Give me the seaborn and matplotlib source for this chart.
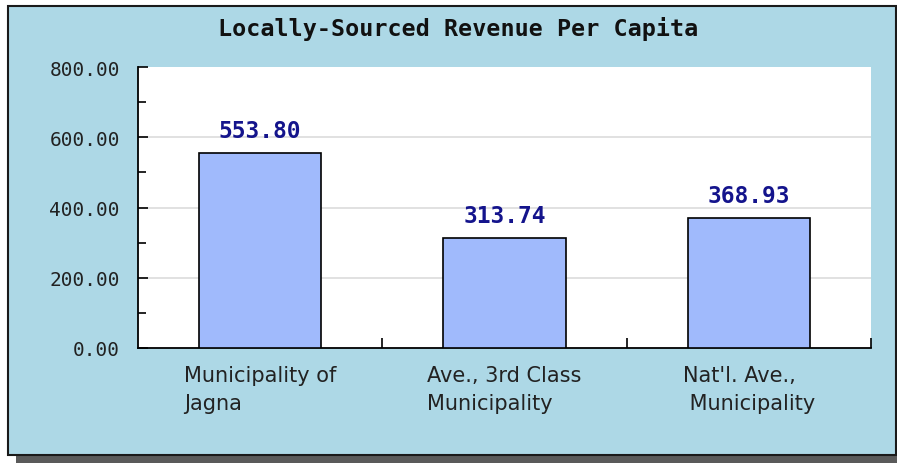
import matplotlib
matplotlib.use("Agg")
import matplotlib.pyplot as plt
from matplotlib.patches import Rectangle
from matplotlib.ticker import FixedLocator, FuncFormatter
import seaborn as sns

title = "Locally-Sourced Revenue Per Capita"
categories = ["Municipality of\nJagna", "Ave., 3rd Class\nMunicipality", "Nat'l. Ave.,\n Municipality"]
values = [553.80, 313.74, 368.93]
value_labels = ["553.80", "313.74", "368.93"]
y_ticks = [0, 200, 400, 600, 800]

W, H = 897, 464
fig = plt.figure(figsize=(W / 100, H / 100), dpi=100, facecolor="white")

# shadow and panel
fig.patches.append(Rectangle((16 / W, 0), (W - 16) / W, (H - 455) / H, transform=fig.transFigure,
                             facecolor="#5a5a5a", edgecolor="none", zorder=0))
fig.patches.append(Rectangle((8 / W, (H - 456) / H), (896 - 8) / W, (456 - 7) / H, transform=fig.transFigure,
                             facecolor="#add8e6", edgecolor="#1a1a1a", linewidth=1.5, zorder=1))

ax = fig.add_axes([138 / W, (H - 349) / H, (871 - 138) / W, (349 - 68) / H])
ax.set_facecolor("white")
ax.set_zorder(2)

sns.barplot(x=categories, y=values, color="#a0bafc", saturation=1, edgecolor="black",
            linewidth=1.2, width=0.5, ax=ax, zorder=3)

ax.set_ylim(0, 800)
ax.set_xlim(-0.5, 2.5)
ax.yaxis.set_major_locator(FixedLocator(y_ticks))
ax.yaxis.set_minor_locator(FixedLocator([100, 300, 500, 700]))
ax.yaxis.set_major_formatter(FuncFormatter(lambda v, p: f"{v:.2f}"))
for yv in y_ticks[1:-1]:
    ax.axhline(yv, color="#dcdcdc", linewidth=1.2, zorder=1)

for s in ["top", "right"]:
    ax.spines[s].set_visible(False)
for s in ["left", "bottom"]:
    ax.spines[s].set_color("black")
    ax.spines[s].set_linewidth(1.3)

ax.tick_params(axis="y", which="major", direction="in", length=7, width=1.2, pad=13,
               labelsize=14, labelcolor="#222222")
ax.tick_params(axis="y", which="minor", direction="in", length=5.5, width=1.2)
for t in ax.get_yticklabels():
    t.set_family("DejaVu Sans Mono")

ax.xaxis.set_minor_locator(FixedLocator([0.5, 1.5, 2.5]))
ax.tick_params(axis="x", which="minor", direction="in", length=7, width=1.2)
ax.tick_params(axis="x", which="major", length=0, pad=12, labelsize=15, labelcolor="#222222")
for t in ax.get_xticklabels():
    t.set_multialignment("left")
    t.set_family("DejaVu Sans")
    t.set_linespacing(1.5)

ax.set_xlabel("")
ax.set_ylabel("")

ax.bar_label(ax.containers[0], labels=value_labels, padding=8, fontsize=16.5,
             fontweight="bold", color="#14148c", family="DejaVu Sans Mono")

fig.text(458 / W, 1 - 29 / H, title, ha="center", va="center", fontsize=16.8,
         fontweight="bold", family="DejaVu Sans Mono", color="#111111", zorder=5)

fig.savefig("out.png", dpi=100, facecolor="white")
